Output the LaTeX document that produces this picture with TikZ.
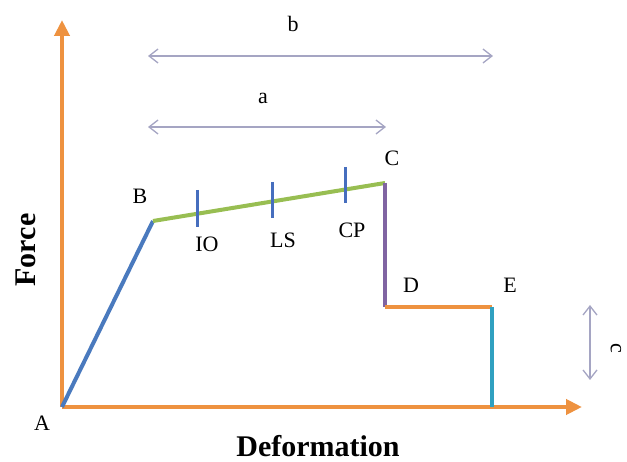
\documentclass[tikz,border=0pt]{standalone}
\usepackage{fontspec}
\setmainfont{Liberation Serif}
\usetikzlibrary{arrows.meta}
\definecolor{axorange}{RGB}{238,146,64}
\definecolor{segblue}{RGB}{74,122,190}
\definecolor{seggreen}{RGB}{152,190,82}
\definecolor{segpurple}{RGB}{128,100,162}
\definecolor{segcyan}{RGB}{48,160,192}
\definecolor{tickblue}{RGB}{70,110,190}
\definecolor{dimgray}{RGB}{165,165,195}
\tikzset{
  axis/.style={draw=axorange,line width=4.5pt,-{Triangle[length=16pt,width=15pt]}},
  seg/.style={line width=4pt},
  tickmark/.style={draw=tickblue,line width=3pt},
  dimline/.style={draw=dimgray,line width=1.3pt,{Straight Barb[length=9pt,width=14pt]}-{Straight Barb[length=9pt,width=14pt]}},
  lbl/.style={font=\fontsize{22}{24}\selectfont,inner sep=0pt},
  axlbl/.style={font=\fontsize{30}{32}\selectfont\bfseries,inner sep=0pt}
}
\begin{document}
\begin{tikzpicture}[x=1pt,y=-1pt]
\useasboundingbox (0,0) rectangle (627,462);
\coordinate (A) at (62,407);
\coordinate (B) at (153,221);
\coordinate (C) at (385,183);
\coordinate (D) at (385,307);
\coordinate (E) at (492,307);
\coordinate (E0) at (492,407);
\coordinate (ytip) at (62,20);
\coordinate (xtip) at (582,407);
% axes
\draw[axis] (A) -- (ytip);
\draw[axis] (A) -- (xtip);
% curve
\draw[seg,draw=segblue] (A) -- (B);
\draw[seg,draw=seggreen] (B) -- (C);
\draw[seg,draw=segpurple] (C) -- (D);
\draw[seg,draw=axorange] (D) -- (E);
\draw[seg,draw=segcyan] (E) -- (E0);
% ticks
\coordinate (t1a) at (197,190); \coordinate (t1b) at (197,227);
\coordinate (t2a) at (272,182); \coordinate (t2b) at (272,218);
\coordinate (t3a) at (345,167); \coordinate (t3b) at (345,203);
\draw[tickmark] (t1a) -- (t1b);
\draw[tickmark] (t2a) -- (t2b);
\draw[tickmark] (t3a) -- (t3b);
% dimension arrows
\coordinate (bL) at (148,56); \coordinate (bR) at (493,56);
\coordinate (aL) at (148,127); \coordinate (aR) at (386,127);
\coordinate (cT) at (590,305); \coordinate (cB) at (590,380);
\draw[dimline] (bL) -- (bR);
\draw[dimline] (aL) -- (aR);
\draw[dimline] (cT) -- (cB);
% labels
\node[lbl] (lA) at (42,423) {A};
\node[lbl] (lB) at (140,196) {B};
\node[lbl] (lC) at (392,158) {C};
\node[lbl] (lD) at (411,285) {D};
\node[lbl] (lE) at (510,285) {E};
\node[lbl] (lIO) at (207,244) {IO};
\node[lbl] (lLS) at (283,240) {LS};
\node[lbl] (lCP) at (352,230) {CP};
\node[lbl] (la) at (263,98) {a};
\node[lbl] (lb) at (293,24) {b};
\node[lbl,rotate=-90] (lc) at (616,348) {c};
\node[axlbl,rotate=90] (force) at (26,250) {Force};
\node[axlbl] (deform) at (318,446) {Deformation};
\end{tikzpicture}
\end{document}
